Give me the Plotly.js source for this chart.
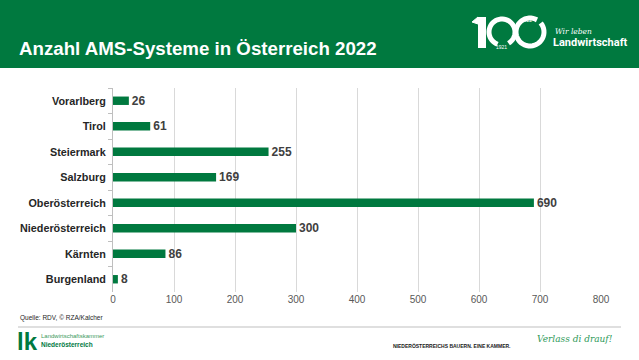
<!DOCTYPE html>
<html>
<head>
<meta charset="utf-8">
<script src="https://cdn.plot.ly/plotly-3.0.1.min.js"></script>
<style>html,body{margin:0;padding:0;background:#fff;}#chart{width:639px;height:360px;}</style>
</head>
<body>
<div id="chart"></div>
<script>
const regions = ["Vorarlberg","Tirol","Steiermark","Salzburg","Oberösterreich","Niederösterreich","Kärnten","Burgenland"];
const systems = [26, 61, 255, 169, 690, 300, 86, 8];
const xTicks = [0,100,200,300,400,500,600,700,800];

const W = 639, H = 360;
const L = 113, R = 601, T = 88, B = 292;
const GREEN = '#00793f';
const px = x => (x - L) / (R - L);
const py = y => (B - y) / (B - T);
const FONT = 'Arial, "Liberation Sans", sans-serif';

function arcPath(cx, cy, r, a0, a1) {
  let d = '';
  const n = 40;
  for (let i = 0; i <= n; i++) {
    const a = (a0 + (a1 - a0) * i / n) * Math.PI / 180;
    const x = cx + r * Math.cos(a), y = cy - r * Math.sin(a);
    d += (i === 0 ? 'M' : 'L') + px(x).toFixed(5) + ',' + py(y).toFixed(5);
  }
  return d;
}

const shapes = [
  {type:'rect', xref:'paper', yref:'paper', x0:px(0), x1:px(W), y0:py(68), y1:py(0), fillcolor:GREEN, line:{width:0}, layer:'below'},
  {type:'line', xref:'paper', yref:'paper', x0:px(18), x1:px(621), y0:py(327), y1:py(327), line:{color:'#bfbfbf', width:1}},
  // logo "1"
  {type:'rect', xref:'paper', yref:'paper', x0:px(478), x1:px(486), y0:py(48), y1:py(17), fillcolor:'#ffffff', line:{width:0}},
  {type:'path', xref:'paper', yref:'paper', path:'M'+px(472)+','+py(22)+'L'+px(478)+','+py(17)+'L'+px(478)+','+py(24)+'Z', fillcolor:'#ffffff', line:{color:'#ffffff', width:1}},
  // first ring
  {type:'path', xref:'paper', yref:'paper', path:arcPath(502, 32, 13, -60, 250), line:{color:'#ffffff', width:5}},
  // second ring
  {type:'path', xref:'paper', yref:'paper', path:arcPath(530, 32, 14, 60, 400), line:{color:'#ffffff', width:5}}
];

const ann = (x, y, text, size, color, opts={}) => Object.assign({
  xref:'paper', yref:'paper', x:px(x), y:py(y), text:text, showarrow:false,
  xanchor:'left', yanchor:'middle', font:{family:FONT, size:size, color:color}
}, opts);

const annotations = [
  ann(17, 48, '<b>Anzahl AMS-Systeme in Österreich 2022</b>', 18.7, '#ffffff'),
  ann(519, 20, '2022', 5, '#ffffff'),
  ann(494, 47, '1921', 5, '#ffffff'),
  ann(553, 31, '<i>Wir leben</i>', 7.5, '#ffffff', {font:{family:'"DejaVu Serif", serif', size:7.5, color:'#ffffff'}}),
  ann(551, 43, '<b>Landwirtschaft</b>', 11, '#ffffff', {font:{family:'"Roboto", Arial, sans-serif', size:11, color:'#ffffff'}}),
  ann(18, 318, 'Quelle: RDV, © RZA/Kalcher', 6.5, '#262626'),
  ann(15, 341, '<b>lk</b>', 24, GREEN, {font:{family:FONT, size:24, color:GREEN}}),
  ann(39, 336, 'Landwirtschaftskammer', 6, '#3a9a5c'),
  ann(39, 344, '<b>Niederösterreich</b>', 6.5, GREEN),
  ann(391, 346, '<b>NIEDERÖSTERREICHS BAUERN. EINE KAMMER.</b>', 5, '#1a1a1a'),
  ann(535, 339, '<i>Verlass di drauf!</i>', 9, '#2f9a5a', {font:{family:'"DejaVu Serif", serif', size:9, color:'#2f9a5a'}})
];

const trace = {
  type:'bar', orientation:'h', y:regions, x:systems,
  marker:{color:GREEN}, width:0.33,
  text:systems.map(String), textposition:'outside', cliponaxis:false, constraintext:'none',
  textfont:{family:FONT, size:12, color:'#404040', weight:'bold'},
  hoverinfo:'none'
};

const layout = {
  width:W, height:H,
  margin:{l:L, r:W-R, t:T, b:H-B, pad:0},
  paper_bgcolor:'#ffffff', plot_bgcolor:'#ffffff',
  showlegend:false,
  xaxis:{range:[0,800], tickvals:xTicks, ticktext:xTicks.map(String), showgrid:true, gridcolor:'#d9d9d9', gridwidth:1,
    zeroline:false, showline:false, ticks:'', tickfont:{family:FONT, size:10, color:'#595959'}, fixedrange:true},
  yaxis:{autorange:'reversed', type:'category', showline:true, linecolor:'#bfbfbf', linewidth:1,
    ticks:'outside', tickson:'boundaries', ticklen:4, tickcolor:'#bfbfbf', showgrid:false,
    tickfont:{family:FONT, size:10.8, color:'#262626', weight:'bold'}, ticklabelstandoff:4, fixedrange:true},
  shapes:shapes, annotations:annotations
};

Plotly.newPlot('chart', [trace], layout, {staticPlot:true, displayModeBar:false});
</script>
</body>
</html>
